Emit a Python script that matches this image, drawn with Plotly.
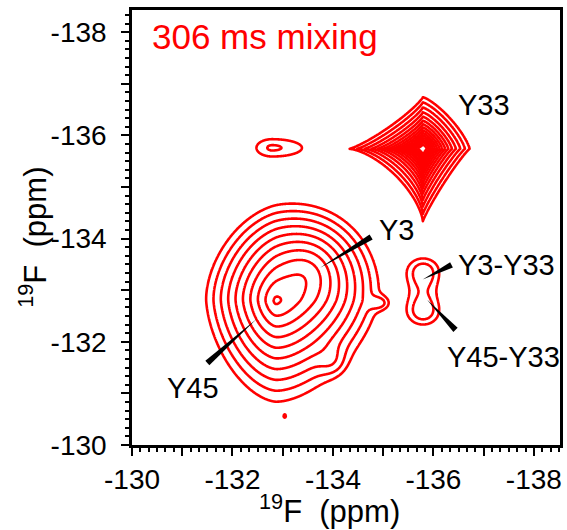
import numpy as np
import plotly.graph_objects as go

# ---------------------------------------------------------------
# 19F-19F NOESY plane, 306 ms mixing: peak table (ppm)
# F2 = direct dimension (horizontal), F1 = indirect (vertical)
# peaks sharing a group overlap additively; groups are combined
# with a soft maximum so their weak tails do not run together
# ---------------------------------------------------------------
peak_name = ["Y33", "Y45", "Y3", "Y45 edge a", "Y45 edge b", "Y45:Y33",
             "Y3-Y33", "Y45-Y33", "spot"]
peak_group = [1, 0, 0, 0, 0, 2, 3, 3, 4]
peak_f2 = [-135.79, -132.86, -133.50, -134.95, -134.00, -132.79, -135.80, -135.80, -133.04]
peak_f1 = [-135.74, -132.79, -133.35, -132.75, -131.60, -135.76, -133.40, -132.55, -130.56]
peak_amp = [8.03, 2.83, 1.50, 0.30, 0.20, 1.165, 1.17, 1.17, 1.04]
# widths (ppm): toward the less negative side (hi) and the more negative side (lo)
peak_w2_hi = [1.45, 1.10, 0.80, 0.15, 0.20, 0.56, 0.46, 0.46, 0.035]
peak_w2_lo = [0.93, 1.35, 0.80, 0.15, 0.20, 1.06, 0.46, 0.46, 0.035]
peak_w1_hi = [1.40, 1.67, 0.80, 0.10, 0.20, 0.30, 0.36, 0.36, 0.050]
peak_w1_lo = [1.00, 1.20, 0.80, 0.10, 0.20, 0.30, 0.36, 0.36, 0.050]
peak_shape = ["power", "cone", "cone", "gauss", "gauss", "gauss", "gauss", "gauss", "gauss"]
# contour roundness per quadrant: (upper-right, lower-right, lower-left, upper-left)
peak_norm = [(1.3, 0.9, 0.7, 0.85), (1.7,) * 4, (2.0,) * 4, (2.0,) * 4, (2.0,) * 4,
             (2.0,) * 4, (2.0,) * 4, (2.0,) * 4, (2.0,) * 4]
peak_core = [0.1715, 0.03, 0.5, 0.0, 0.0, 0.0, 0.0, 0.0, 0.0]
peak_decay = [1.15, 1.0, 1.0, 1.0, 1.0, 1.0, 1.0, 1.0, 1.0]
peak_reach = [1.5, 99.0, 99.0, 99.0, 99.0, 99.0, 99.0, 99.0, 99.0]

# contour levels: geometric series
level_base = 1.0
level_factor = 1.15
level_count = 15

# assignment labels
label_text = ["Y33", "Y3", "Y45", "Y3-Y33", "Y45-Y33"]
# label anchor (left edge, vertical middle) in ppm
label_f2 = [-136.44, -134.88, -130.65, -136.44, -136.23]
label_f1 = [-136.59, -134.17, -131.10, -133.49, -131.71]
# pointer wedges: thick end -> thin end (ppm); None = no pointer
pointer_from = [None, (-134.76, -134.03), (-131.50, -131.59), (-136.36, -133.49), (-136.44, -132.23)]
pointer_to = [None, (-133.75, -133.43), (-132.49, -132.46), (-135.79, -133.20), (-135.87, -132.81)]

mixing_label = "306 ms mixing"
axis_label = "<sup>19</sup>F&nbsp; (ppm)"

# ---------------------------------------------------------------
# figure geometry
# ---------------------------------------------------------------
W, H = 567, 530
MARGIN = dict(l=132, r=4, t=10, b=85, pad=0)
X_RANGE = [-130.0, -138.52]
Y_RANGE = [-130.0, -138.43]
PLOT_W = W - MARGIN["l"] - MARGIN["r"]
PLOT_H = H - MARGIN["t"] - MARGIN["b"]
FONT = "Liberation Sans, Arial, sans-serif"

# ---------------------------------------------------------------
# build the spectrum on a grid from the peak table
# ---------------------------------------------------------------
f2_axis = np.arange(X_RANGE[0], X_RANGE[1] - 0.005, -0.01)
f1_axis = np.arange(Y_RANGE[0], Y_RANGE[1] - 0.005, -0.01)
F2, F1 = np.meshgrid(f2_axis, f1_axis)


def peak_surface(i):
    d2 = F2 - peak_f2[i]
    d1 = F1 - peak_f1[i]
    u = np.abs(d2) / np.where(d2 >= 0, peak_w2_hi[i], peak_w2_lo[i])
    v = np.abs(d1) / np.where(d1 >= 0, peak_w1_hi[i], peak_w1_lo[i])
    q_ur, q_lr, q_ll, q_ul = peak_norm[i]
    right = d2 < 0   # more negative F2 sits on the right of the reversed axis
    upper = d1 < 0   # more negative F1 sits at the top
    q = np.where(right, np.where(upper, q_ur, q_lr), np.where(upper, q_ul, q_ll))
    s = (u ** q + v ** q) ** (1.0 / q)
    c = peak_core[i]
    if peak_shape[i] == "power":
        val = (c * c / (c * c + s * s)) ** (peak_decay[i] / 2.0)
    elif peak_shape[i] == "cone":
        val = np.exp(-(np.sqrt(c * c + s * s) - c))
    else:
        val = np.exp(-0.5 * s * s)
    val = val * np.exp(-(s / peak_reach[i]) ** 8)
    return peak_amp[i] * val


groups = {}
for i in range(len(peak_name)):
    groups.setdefault(peak_group[i], np.zeros(F2.shape))
    groups[peak_group[i]] += peak_surface(i)
spectrum = sum(g ** 4 for g in groups.values()) ** 0.25 + 1e-6
log_spec = np.log10(spectrum).astype(np.float32)

lv_start = np.log10(level_base)
lv_size = np.log10(level_factor)
lv_end = lv_start + (level_count - 1) * lv_size

fig = go.Figure()
fig.add_trace(
    go.Contour(
        x=f2_axis.astype(np.float32),
        y=f1_axis.astype(np.float32),
        z=log_spec,
        contours=dict(start=lv_start, end=lv_end, size=lv_size, coloring="lines"),
        colorscale=[[0, "#ff0000"], [1, "#ff0000"]],
        showscale=False,
        line=dict(width=2.6, smoothing=1),
        hoverinfo="skip",
    )
)


# ---------------------------------------------------------------
# tapered pointer wedges (built in screen pixels, returned in ppm)
# ---------------------------------------------------------------
def to_px(x, y):
    px = (x - X_RANGE[0]) / (X_RANGE[1] - X_RANGE[0]) * PLOT_W
    py = (y - Y_RANGE[0]) / (Y_RANGE[1] - Y_RANGE[0]) * PLOT_H
    return np.array([px, py])


def to_ppm(p):
    x = X_RANGE[0] + p[0] / PLOT_W * (X_RANGE[1] - X_RANGE[0])
    y = Y_RANGE[0] + p[1] / PLOT_H * (Y_RANGE[1] - Y_RANGE[0])
    return x, y


def wedge(a, b, half_thick=3.0, half_thin=0.35):
    pa, pb = to_px(*a), to_px(*b)
    d = pb - pa
    n = np.array([-d[1], d[0]]) / np.hypot(*d)
    corners = [pa + n * half_thick, pb + n * half_thin, pb - n * half_thin, pa - n * half_thick]
    xs, ys = zip(*[to_ppm(c) for c in corners])
    return list(xs) + [xs[0]], list(ys) + [ys[0]]


for a, b in zip(pointer_from, pointer_to):
    if a is None:
        continue
    wx, wy = wedge(a, b)
    fig.add_trace(
        go.Scatter(
            x=wx, y=wy, mode="lines", fill="toself", fillcolor="black",
            line=dict(width=0, color="black"), hoverinfo="skip", showlegend=False,
        )
    )

annotations = []
for t, x, y in zip(label_text, label_f2, label_f1):
    annotations.append(
        dict(x=x, y=y, xref="x", yref="y", text=t, showarrow=False,
             xanchor="left", yanchor="middle",
             font=dict(family=FONT, size=29, color="black"))
    )
annotations.append(
    dict(x=-130.36, y=-137.91, xref="x", yref="y", text=mixing_label, showarrow=False,
         xanchor="left", yanchor="middle", font=dict(family=FONT, size=35, color="#ff0000"))
)
annotations.append(
    dict(x=0.462, y=-0.147, xref="paper", yref="paper", text=axis_label, showarrow=False,
         xanchor="center", yanchor="middle", font=dict(family=FONT, size=31, color="black"))
)
annotations.append(
    dict(x=-0.232, y=0.478, xref="paper", yref="paper", text=axis_label, showarrow=False,
         textangle=-90, xanchor="center", yanchor="middle",
         font=dict(family=FONT, size=31, color="black"))
)

tick_vals = list(range(-130, -139, -1))
tick_text = [str(v) if v % 2 == 0 else " " for v in tick_vals]

axis_common = dict(
    tickmode="array",
    tickvals=tick_vals,
    ticktext=tick_text,
    ticks="outside",
    ticklen=8,
    tickwidth=2,
    tickcolor="black",
    tickfont=dict(family=FONT, size=28, color="black"),
    showline=True,
    linewidth=2.5,
    linecolor="black",
    mirror=True,
    showgrid=False,
    zeroline=False,
    minor=dict(tickmode="linear", tick0=-130, dtick=1 / 6, ticks="outside",
               ticklen=4, tickwidth=1.5, tickcolor="black", showgrid=False),
)

fig.update_layout(
    width=W,
    height=H,
    margin=MARGIN,
    paper_bgcolor="white",
    plot_bgcolor="white",
    showlegend=False,
    xaxis=dict(range=X_RANGE, **axis_common),
    yaxis=dict(range=Y_RANGE, ticklabelstandoff=9, **axis_common),
    annotations=annotations,
)

fig.write_html("out.html")
